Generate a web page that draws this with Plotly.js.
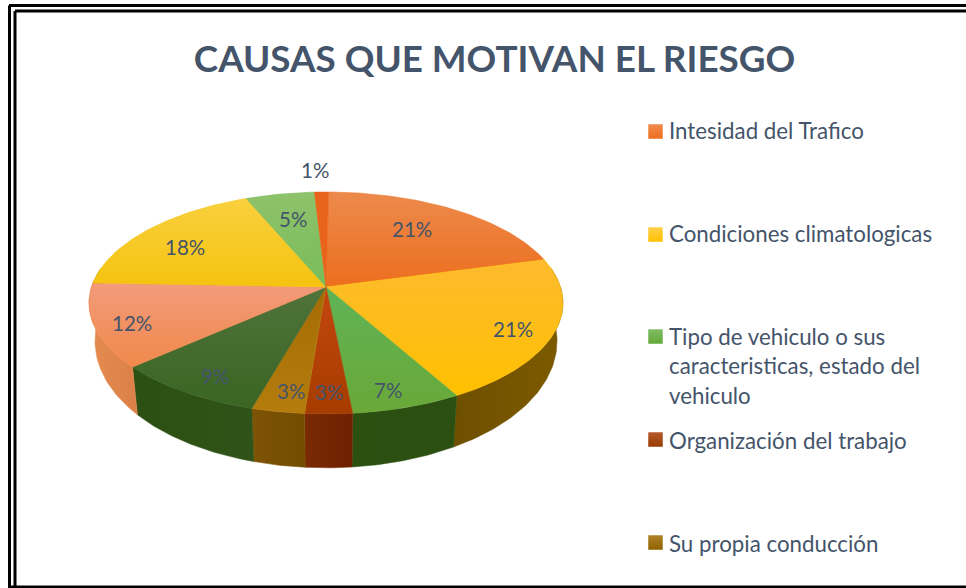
<!DOCTYPE html>
<html>
<head>
<meta charset="utf-8">
<script src="https://cdn.plot.ly/plotly-3.0.1.min.js"></script>
<style>html,body{margin:0;padding:0;background:#fff;overflow:hidden}#c{width:966px;height:588px}</style>
</head>
<body>
<div id="c"></div>
<script>
// ---- data ----
var sliceValues = [20.6, 21.1, 6.55, 2.8, 3.15, 9.0, 12.2, 18.1, 5.4, 1.1];
var legendLabels = ['Intesidad del Trafico', 'Condiciones climatologicas',
  'Tipo de vehiculo o sus\ncaracteristicas, estado del\nvehiculo', 'Organización del trabajo', 'Su propia conducción'];
var titleText = 'CAUSAS QUE MOTIVAN EL RIESGO';

// ---- styles ----
var topTop = ['#EC8A4C','#FDBB2E','#5FB356','#C4470F','#A66C05','#50733B','#F39B7C','#F9D03E','#8FC26C','#E9641B'];
var topBot = ['#ED6E1E','#FFC000','#6AA838','#A63C00','#B47C0C','#3A6522','#F0894A','#F5C30F','#78BC58','#E9641B'];
var wallA  = ['#A8500F','#6F5000','#2B5010','#7A2A04','#7E5406','#2C5013','#E58C50','#9A7A00','#4B7A30','#A8500F'];
var wallB  = ['#A8500F','#7C5A00','#2C4F12','#6E2000','#734C00','#2F5318','#DB8048','#9A7A00','#4B7A30','#A8500F'];
var legendColors = [['#F08A4E','#ED6E1E'],['#FFD04A','#FFC000'],['#80BC62','#62A83A'],['#B45A2C','#993A00'],['#AE8228','#8F6200']];
var textColor = '#44546A', fontName = 'Lato, Carlito, "Open Sans", sans-serif';

// ---- pie geometry (perspective view of a tilted disc, on pixel-ranged axes) ----
var cx = 326, cy = 287, A = 234.5, B = 108.7, K = 0.144, startDeg = 0.7;
function rim(deg) {
  var t = deg * Math.PI / 180, u = Math.sin(t), v = -Math.cos(t), w = 1 - K * v;
  return {x: cx + A * u / w, y: cy + B * v / w, v: v};
}
function low(deg) {
  var p = rim(deg), d = 35 + 22 * p.v;
  return {x: cx + (p.x - cx) * 0.975, y: cy + (p.y - cy) * 0.975 + d};
}
var total = sliceValues.reduce(function (a, b) { return a + b; }, 0), acc = startDeg, spans = [];
sliceValues.forEach(function (val) { var s = acc, e = acc + val / total * 360; spans.push([s, e]); acc = e; });

var traces = [];
// outer walls
spans.forEach(function (sp, i) {
  var a = Math.max(sp[0], 80), b = Math.min(sp[1], 280);
  if (b <= a) return;
  var xs = [], ys = [], d;
  for (d = a; d < b; d += 1) { var p = rim(d); xs.push(p.x); ys.push(p.y); }
  var pe = rim(b); xs.push(pe.x); ys.push(pe.y);
  var le = low(b); xs.push(le.x); ys.push(le.y);
  for (d = b - 1; d > a; d -= 1) { var q = low(d); xs.push(q.x); ys.push(q.y); }
  var la = low(a); xs.push(la.x); ys.push(la.y);
  xs.push(xs[0]); ys.push(ys[0]);
  traces.push({type: 'scatter', mode: 'lines', x: xs, y: ys, fill: 'toself', hoverinfo: 'skip',
    line: {width: 0.5, color: wallA[i]}, fillcolor: wallA[i],
    fillgradient: {type: 'horizontal', colorscale: [[0, wallA[i]], [1, wallB[i]]]}});
});
// top faces
spans.forEach(function (sp, i) {
  var xs = [cx], ys = [cy], d;
  for (d = sp[0]; d < sp[1]; d += 1) { var p = rim(d); xs.push(p.x); ys.push(p.y); }
  var pe = rim(sp[1]); xs.push(pe.x, cx); ys.push(pe.y, cy);
  traces.push({type: 'scatter', mode: 'lines', x: xs, y: ys, fill: 'toself', hoverinfo: 'skip',
    line: {width: 0.5, color: topBot[i]}, fillcolor: topBot[i],
    fillgradient: {type: 'vertical', colorscale: [[0, topBot[i]], [1, topTop[i]]]}});
});

// ---- percentage labels ----
var labelX = [412, 513, 388, 329, 291, 215, 132, 185, 293, 315];
var labelY = [229, 329, 390, 392, 391, 376, 323, 247, 219, 170];
var annotations = sliceValues.map(function (val, i) {
  return {x: labelX[i], y: labelY[i], xref: 'x', yref: 'y', showarrow: false, xanchor: 'center', yanchor: 'middle',
    text: Math.round(val / total * 100) + '%', font: {family: fontName, size: 20.5, color: textColor}};
});

// ---- legend ----
var legendSwatchY = [131.5, 234.5, 336.5, 439.5, 542.5];
var legendTextY = [130, 233, 336, 440, 543];
var legendLineGap = 29.5;
legendLabels.forEach(function (lab, i) {
  lab.split('\n').forEach(function (line, j) {
    annotations.push({x: 667, y: legendTextY[i] + j * legendLineGap, xref: 'x', yref: 'y', showarrow: false,
      xanchor: 'left', yanchor: 'middle', text: line, font: {family: fontName, size: 22.3, color: textColor}});
  });
  traces.push({type: 'scatter', mode: 'markers', x: [655.5], y: [legendSwatchY[i]], hoverinfo: 'skip',
    marker: {symbol: 'square', size: 14.5, color: legendColors[i][0], line: {width: 0},
      gradient: {type: 'vertical', color: legendColors[i][1]}}});
});

// ---- frame ----
function seg(x0, y0, x1, y1, w) {
  return {type: 'line', xref: 'x', yref: 'y', x0: x0, y0: y0, x1: x1, y1: y1, line: {color: '#000', width: w}};
}
var shapes = [seg(9, 5.5, 966, 5.5, 3), seg(9.5, 5.5, 9.5, 588, 3), seg(15, 11, 966, 11, 3), seg(15, 11, 15, 588, 3), seg(8, 587, 966, 587, 3)];

var layout = {
  width: 966, height: 588, margin: {l: 0, r: 0, t: 0, b: 0}, showlegend: false,
  paper_bgcolor: '#fff', plot_bgcolor: '#fff',
  xaxis: {range: [0, 966], visible: false, fixedrange: true},
  yaxis: {range: [588, 0], visible: false, fixedrange: true},
  title: {text: titleText, x: 494.5 / 966, xanchor: 'center', xref: 'paper', y: 1 - 59 / 588, yref: 'paper', yanchor: 'middle',
    font: {family: fontName, size: 36.8, color: textColor, weight: 700}},
  annotations: annotations, shapes: shapes
};
Plotly.newPlot('c', traces, layout, {displayModeBar: false, staticPlot: true});
</script>
</body>
</html>
